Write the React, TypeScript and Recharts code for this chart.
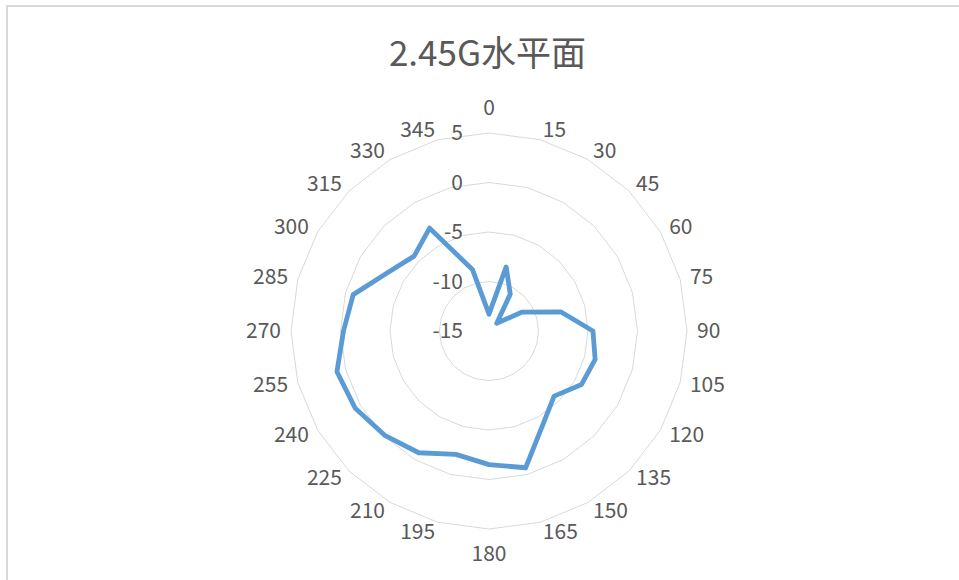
import { RadarChart, Radar, PolarGrid, PolarAngleAxis, PolarRadiusAxis } from "recharts";

const angles = [0, 15, 30, 45, 60, 75, 90, 105, 120, 135, 150, 165, 180, 195, 210, 225, 240, 255, 270, 285, 300, 315, 330, 345];
const gain = [-13.3, -8.3, -10.7, -13.9, -11.2, -7.5, -4.5, -3.9, -4.2, -5.7, -4.1, -0.7, -1.5, -2.1, -0.8, -0.1, 0.6, 0.9, -0.3, -0.8, -3.2, -4.3, -3.0, -8.6];
const radialTicks = [-15, -10, -5, 0, 5];

const data = angles.map((a, i) => ({ angle: String(a), value: gain[i] }));

const CX = 489;
const CY = 331;
const FONT = '"Noto Sans CJK SC", "Noto Sans", sans-serif';
const GREY = "#595959";

function AngleTick(props: any) {
  const { x, y, payload } = props;
  const dx = x - CX;
  const dy = y - CY;
  const len = Math.sqrt(dx * dx + dy * dy) || 1;
  const s = dx / len;
  const c = dy / len;
  const R = 208;
  let px = CX + s * R;
  let py = CY + c * R - 2;
  let anchor: "start" | "end" | "middle" = "middle";
  if (s > 0.01) anchor = "start";
  else if (s < -0.01) anchor = "end";
  else py += c * 15;
  return (
    <text x={px} y={py} textAnchor={anchor} dominantBaseline="central" fill={GREY} fontSize={21} fontFamily={FONT}>
      {payload.value}
    </text>
  );
}

function RadiusTick(props: any) {
  const { x, y, payload } = props;
  return (
    <text x={x - 26} y={y - 2} textAnchor="end" dominantBaseline="central" fill={GREY} fontSize={21} fontFamily={FONT}>
      {payload.value}
    </text>
  );
}

export default function App() {
  return (
    <div style={{ position: "absolute", left: 0, top: 0, width: 959, height: 580, overflow: "hidden", background: "#fff" }}>
      <div
        style={{
          position: "absolute",
          left: 6,
          top: 5,
          width: 1000,
          height: 1000,
          border: "2px solid #d9d9d9",
        }}
      />
      <div
        style={{
          position: "absolute",
          left: 0,
          top: 33,
          width: 975,
          textAlign: "center",
          fontSize: 35,
          lineHeight: "35px",
          fontFamily: FONT,
          color: GREY,
        }}
      >
        2.45G水平面
      </div>
      <div style={{ position: "absolute", left: 0, top: 0 }}>
        <RadarChart width={959} height={580} data={data} cx={CX} cy={CY} outerRadius={198} margin={{ top: 0, right: 0, bottom: 0, left: 0 }}>
          <PolarGrid stroke="#d9d9d9" radialLines={false} gridType="polygon" />
          <PolarAngleAxis dataKey="angle" tick={<AngleTick />} tickLine={false} axisLine={false} />
          <PolarRadiusAxis
            angle={90}
            domain={[-15, 5]}
            ticks={radialTicks as any}
            tickCount={5}
            tick={<RadiusTick />}
            axisLine={false}
            tickLine={false}
          />
          <Radar
            dataKey="value"
            stroke="#5b9bd5"
            strokeWidth={4.8}
            strokeLinejoin="round"
            fill="none"
            fillOpacity={0}
            dot={false}
            isAnimationActive={false}
          />
        </RadarChart>
      </div>
    </div>
  );
}
